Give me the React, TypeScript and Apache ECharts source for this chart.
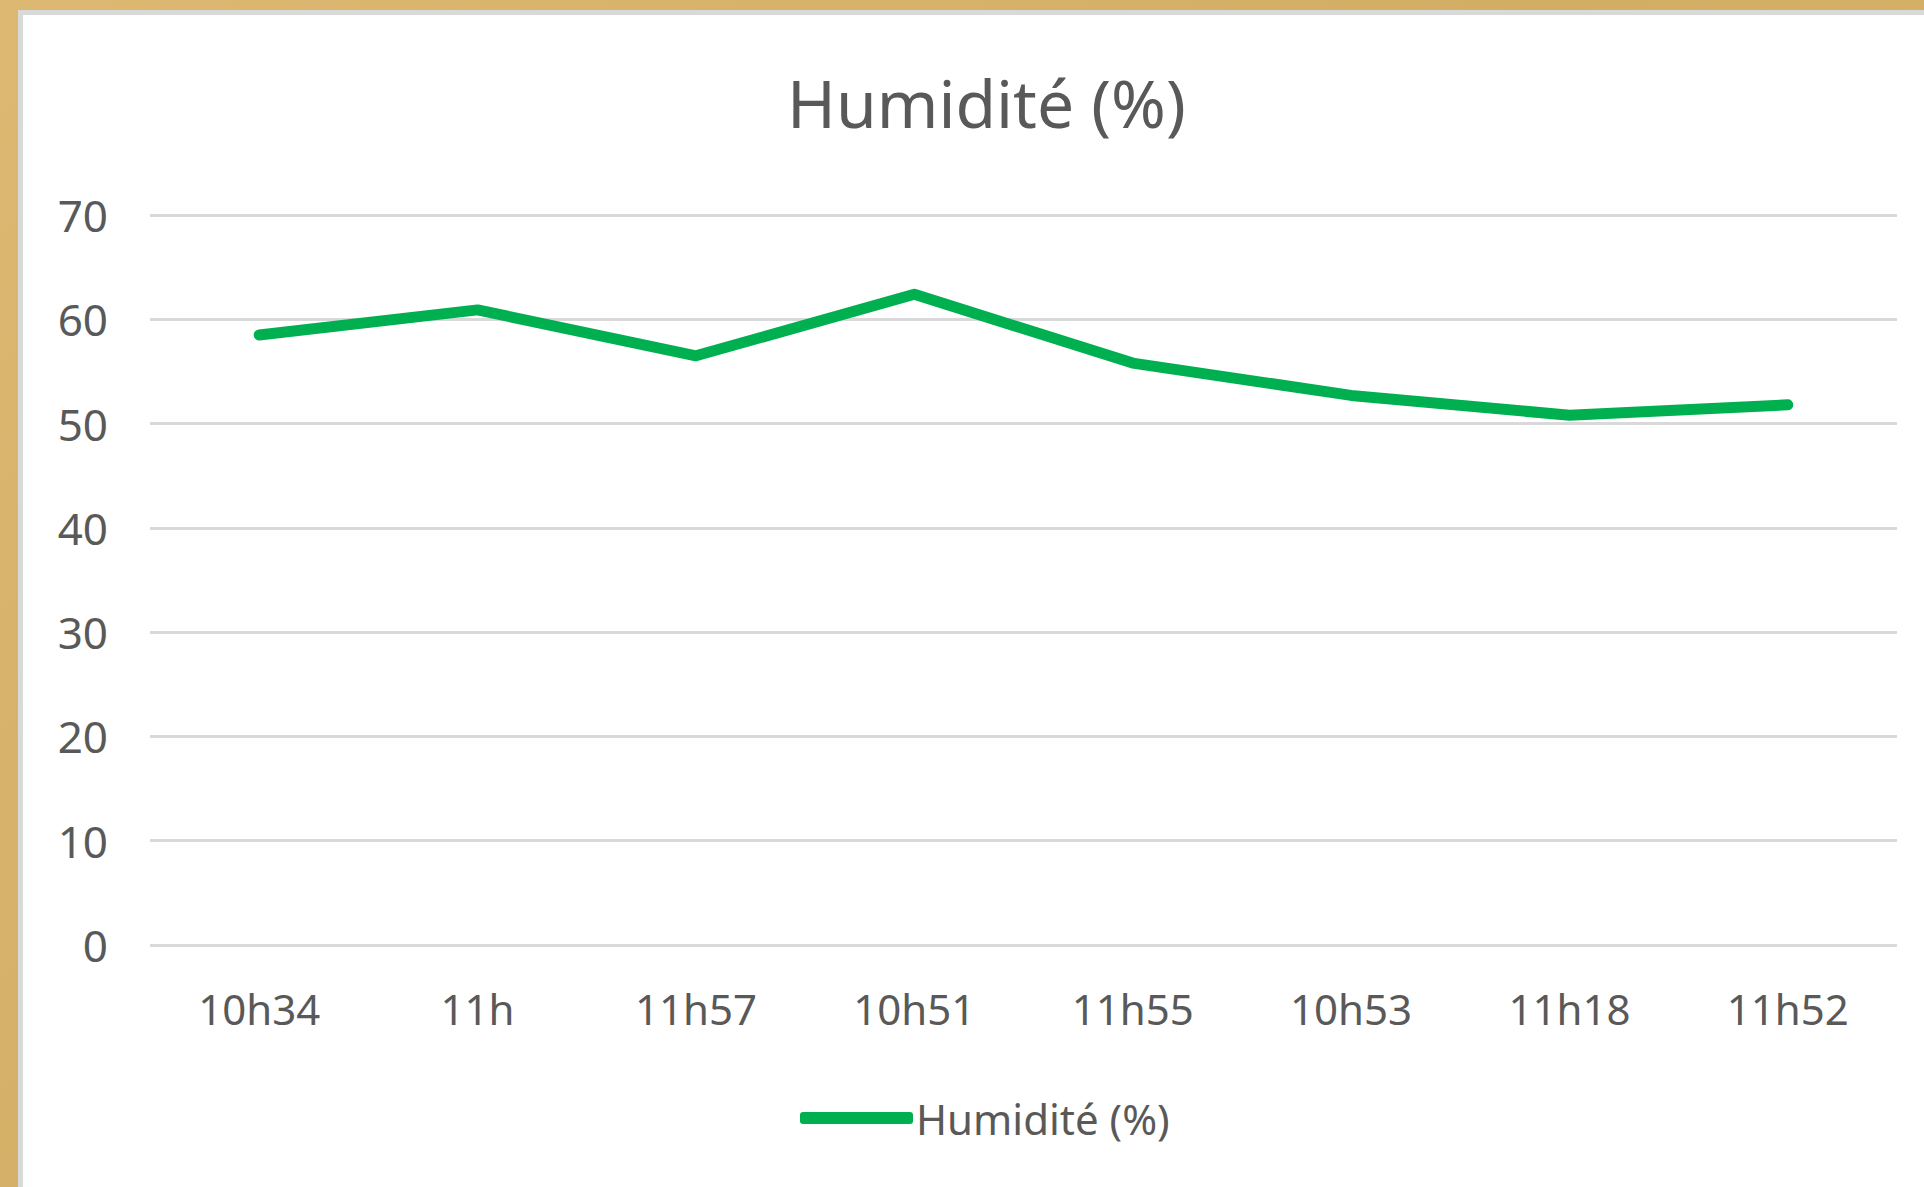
import React, { useEffect, useRef } from "react";
import * as echarts from "echarts";

const categories = ["10h34", "11h", "11h57", "10h51", "11h55", "10h53", "11h18", "11h52"];
const humidity = [58.5, 60.9, 56.5, 62.4, 55.8, 52.7, 50.8, 51.8];
const seriesName = "Humidité (%)";
const titleText = "Humidité (%)";

const FONT = "'Noto Sans', 'Open Sans', sans-serif";
const TEXT = "#595959";
const GREEN = "#00B050";

export default function App() {
  const ref = useRef<HTMLDivElement>(null);
  useEffect(() => {
    if (!ref.current) return;
    const chart = echarts.init(ref.current, undefined, { renderer: "svg" });
    chart.setOption({
      animation: false,
      backgroundColor: "transparent",
      textStyle: { fontFamily: FONT },
      title: {
        text: titleText,
        left: 787,
        top: 69,
        padding: 0,
        textStyle: { fontSize: 66, fontWeight: "normal", color: TEXT, fontFamily: FONT },
      },
      legend: {
        data: [seriesName],
        left: 800,
        top: 1097,
        padding: 0,
        icon: "roundRect",
        itemWidth: 113,
        itemHeight: 12,
        itemGap: 10,
        textStyle: { fontSize: 42, color: TEXT, fontFamily: FONT, padding: [0, 0, 0, -2] },
      },
      grid: { left: 150, right: 27, top: 215, bottom: 242, containLabel: false },
      xAxis: {
        type: "category",
        data: categories,
        boundaryGap: true,
        axisLine: { show: false },
        axisTick: { show: false },
        axisLabel: { fontSize: 42, color: TEXT, margin: 42, fontFamily: FONT },
      },
      yAxis: {
        type: "value",
        min: 0,
        max: 70,
        interval: 10,
        axisLine: { show: false },
        axisTick: { show: false },
        axisLabel: { fontSize: 44, color: TEXT, margin: 42, fontFamily: FONT, padding: [0, 0, 8, 0] },
        splitLine: { lineStyle: { color: "#d9d9d9", width: 3 } },
      },
      series: [
        {
          name: seriesName,
          type: "line",
          data: humidity,
          symbol: "none",
          itemStyle: { color: GREEN },
          lineStyle: { color: GREEN, width: 11, cap: "round", join: "round" },
        },
      ],
    });
    return () => chart.dispose();
  }, []);

  return (
    <div style={{ position: "fixed", left: 0, top: 0, width: 1924, height: 1187, background: "linear-gradient(135deg, #dcb872, #d2ad64 50%, #dbb66e)", overflow: "hidden" }}>
      <div
        style={{
          position: "absolute",
          left: 18,
          top: 10,
          width: 1924,
          height: 1187,
          background: "#ffffff",
          borderLeft: "5px solid #d9d9d9",
          borderTop: "5px solid #d9d9d9",
        }}
      />
      <div ref={ref} style={{ position: "absolute", left: 0, top: 0, width: 1924, height: 1187 }} />
    </div>
  );
}
